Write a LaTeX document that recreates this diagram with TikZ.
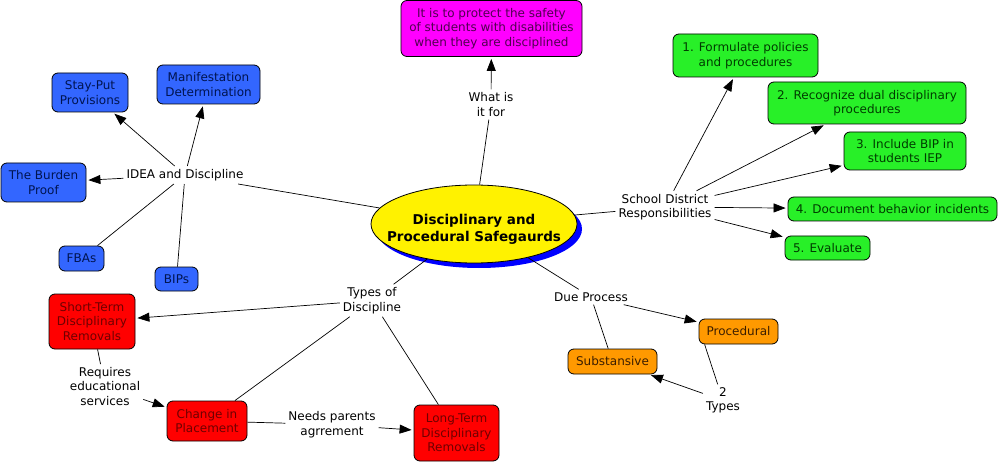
\documentclass[tikz,border=0pt]{standalone}
\usepackage{fontspec}
\setmainfont{DejaVu Sans}
\usetikzlibrary{arrows.meta,shapes.geometric,shadows}
\definecolor{cmblue}{RGB}{51,102,255}
\definecolor{cmbluetext}{RGB}{0,20,80}
\definecolor{cmgreen}{RGB}{40,240,40}
\definecolor{cmgreentext}{RGB}{0,60,0}
\definecolor{cmred}{RGB}{255,0,0}
\definecolor{cmredtext}{RGB}{110,0,0}
\definecolor{cmorange}{RGB}{255,153,0}
\definecolor{cmorangetext}{RGB}{60,30,0}
\definecolor{cmpink}{RGB}{255,0,255}
\definecolor{cmpinktext}{RGB}{80,0,80}
\tikzset{
 concept/.style={draw=black, line width=.8pt, rounded corners=6pt, align=center,
   inner sep=2pt, font=\fontsize{12}{14.5}\selectfont},
 bluebox/.style={concept, fill=cmblue, text=cmbluetext},
 greenbox/.style={concept, fill=cmgreen, text=cmgreentext},
 redbox/.style={concept, fill=cmred, text=cmredtext},
 orangebox/.style={concept, fill=cmorange, text=cmorangetext},
 pinkbox/.style={concept, fill=cmpink, text=cmpinktext},
 topic/.style={ellipse, draw=black, line width=.8pt, fill=yellow, inner sep=0pt,
   minimum width=206pt, minimum height=78pt,
   drop shadow={fill=blue, opacity=1, shadow xshift=5pt, shadow yshift=-5pt}},
 topictext/.style={align=center, inner sep=0pt, font=\bfseries\fontsize{13.5}{17}\selectfont},
 linkword/.style={align=center, inner sep=3pt, font=\fontsize{12}{14.5}\selectfont},
 link/.style={line width=.7pt},
 arrow/.style={link, -{Triangle[length=12pt,width=9pt]}, shorten >=2pt},
}
\begin{document}
\begin{tikzpicture}[x=1pt,y=-1pt]
 \useasboundingbox (0,0) rectangle (1000,462);
 \node[topic] (safeg) at (474,224) {};
 \node[topictext] (safegtitle) at (474,229.5) {Disciplinary and\\Procedural Safegaurds};

 \node[pinkbox, minimum width=181pt, minimum height=56pt] (purpose) at (491.5,28.5) {It is to protect the safety\\of students with disabilities\\when they are disciplined};
 \node[linkword] (whatfor) at (491,104.5) {What is\\it for};

 \node[bluebox, minimum width=76pt, minimum height=39pt] (stayput) at (90,92.5) {Stay-Put\\Provisions};
 \node[bluebox, minimum width=103pt, minimum height=39pt] (manif) at (208.5,84.5) {Manifestation\\Determination};
 \node[bluebox, minimum width=85pt, minimum height=39pt] (burden) at (43.5,182.5) {The Burden\\Proof};
 \node[bluebox, minimum width=45pt, minimum height=25pt] (fbas) at (81.5,258.5) {FBAs};
 \node[bluebox, minimum width=43pt, minimum height=24pt] (bips) at (176.5,279) {BIPs};
 \node[linkword] (idea) at (185,175) {IDEA and Discipline};

 \node[greenbox, minimum width=145pt, minimum height=43pt] (resp1) at (745.5,55.5) {1. Formulate policies\\and procedures};
 \node[greenbox, minimum width=198pt, minimum height=42pt] (resp2) at (867,103) {2. Recognize dual disciplinary\\procedures};
 \node[greenbox, minimum width=122pt, minimum height=38pt] (resp3) at (905,151) {3. Include BIP in\\students IEP};
 \node[greenbox, minimum width=209pt, minimum height=24pt] (resp4) at (892.5,209) {4. Document behavior incidents};
 \node[greenbox, minimum width=85pt, minimum height=24pt] (resp5) at (827.5,248) {5. Evaluate};
 \node[linkword] (district) at (665,207) {School District\\Responsibilities};

 \node[redbox, minimum width=86pt, minimum height=55pt] (shortterm) at (92,321.5) {Short-Term\\Disciplinary\\Removals};
 \node[redbox, minimum width=80pt, minimum height=40pt] (placement) at (207,421) {Change in\\Placement};
 \node[redbox, minimum width=85pt, minimum height=56pt] (longterm) at (456.5,433) {Long-Term\\Disciplinary\\Removals};
 \node[linkword] (types) at (372,300.5) {Types of\\Discipline};
 \node[linkword] (requires) at (105,386.5) {Requires\\educational\\services};
 \node[linkword] (parents) at (332,424.5) {Needs parents\\agrrement};

 \node[orangebox, minimum width=79pt, minimum height=25pt] (procedural) at (738.5,331.5) {Procedural};
 \node[orangebox, minimum width=89pt, minimum height=25pt] (substantive) at (612.5,361.5) {Substansive};
 \node[linkword] (dueproc) at (591,297) {Due Process};
 \node[linkword] (twotypes) at (723,400.5) {2\\Types};

 \draw[link] (safeg) -- (whatfor);
 \draw[arrow] (whatfor) -- (purpose);

 \draw[link] (safeg) -- (idea);
 \draw[arrow] (idea) -- (stayput);
 \draw[arrow] (idea) -- (manif);
 \draw[arrow] (idea) -- (burden);
 \draw[link] (idea) -- (fbas);
 \draw[link] (idea) -- (bips);

 \draw[link] (safeg) -- (district);
 \foreach \r in {1,...,5}
  \draw[arrow] (district) -- (resp\r);

 \draw[link] (safeg) -- (types);
 \draw[arrow] (types) -- (shortterm);
 \draw[link] (types) -- (placement);
 \draw[link] (types) -- (longterm);
 \draw[link] (shortterm) -- (requires);
 \draw[arrow] (requires) -- (placement);
 \draw[link] (placement) -- (parents);
 \draw[arrow] (parents) -- (longterm);

 \draw[link] (safeg) -- (dueproc);
 \draw[arrow] (dueproc) -- (procedural);
 \draw[link] (dueproc) -- (substantive);
 \draw[link] ([xshift=6pt]procedural.south west) -- (twotypes);
 \draw[arrow] (twotypes) -- (substantive);
\end{tikzpicture}
\end{document}
